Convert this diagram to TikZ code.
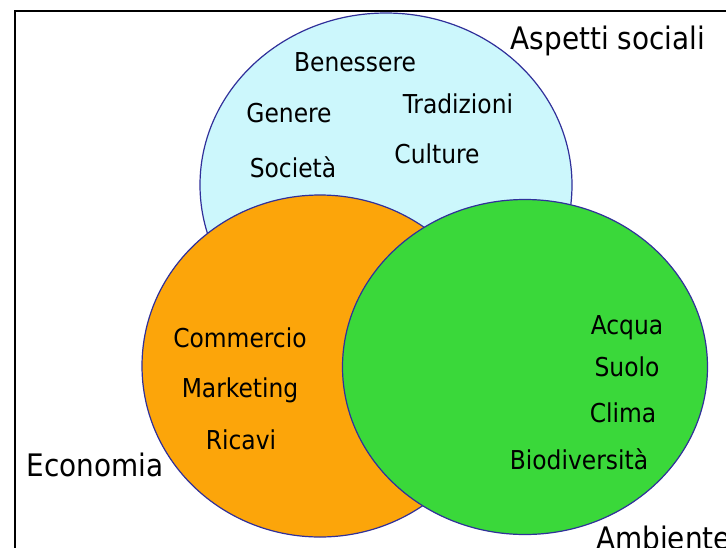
\documentclass[tikz,border=0pt]{standalone}
\usepackage{fontspec}
\setmainfont{DejaVu Sans Condensed}
\usetikzlibrary{shapes.geometric}
\definecolor{socfill}{HTML}{CCF7FC}
\definecolor{ecofill}{HTML}{FCA50A}
\definecolor{envfill}{HTML}{3AD83A}
\definecolor{rimcol}{HTML}{30309A}
\tikzset{
  setshape/.style={ellipse, draw=rimcol, line width=1.2pt, inner sep=0pt},
  inlabel/.style={anchor=base, inner sep=0pt, font=\fontsize{26}{30}\selectfont},
  outlabel/.style={anchor=base, inner sep=0pt, font=\fontsize{31}{36}\selectfont},
}
\begin{document}
\begin{tikzpicture}[x=1pt, y=-1pt]
\useasboundingbox (0,0) rectangle (726,547);
\clip (0,0) rectangle (726,547);
\fill[white] (0,0) rectangle (726,547);
\draw[line width=2.2pt, black] (15,11) rectangle (760,580);
% sets
\node[setshape, fill=socfill, minimum width=372pt, minimum height=344pt] (soc) at (386,185) {};
\node[setshape, fill=ecofill, minimum width=356pt, minimum height=342pt] (eco) at (320,366) {};
\node[setshape, fill=envfill, minimum width=365pt, minimum height=335pt] (env) at (525,367) {};
% social
\node[outlabel] (tsoc) at (608,49) {Aspetti sociali};
\node[inlabel] (ben) at (355,71) {Benessere};
\node[inlabel] (gen) at (289,122) {Genere};
\node[inlabel] (sct) at (293,177) {Società};
\node[inlabel] (tra) at (458,113) {Tradizioni};
\node[inlabel] (cul) at (437,163) {Culture};
% economy
\node[outlabel] (teco) at (95,476) {Economia};
\node[inlabel] (com) at (240,347) {Commercio};
\node[inlabel] (mkt) at (240,397) {Marketing};
\node[inlabel] (ric) at (241,449) {Ricavi};
% environment
\node[outlabel, anchor=base west] (tenv) at (596,549) {Ambiente};
\node[inlabel] (acq) at (627,334) {Acqua};
\node[inlabel] (suo) at (627,376) {Suolo};
\node[inlabel] (cli) at (623,422) {Clima};
\node[inlabel] (bio) at (579,469) {Biodiversità};
\end{tikzpicture}
\end{document}
